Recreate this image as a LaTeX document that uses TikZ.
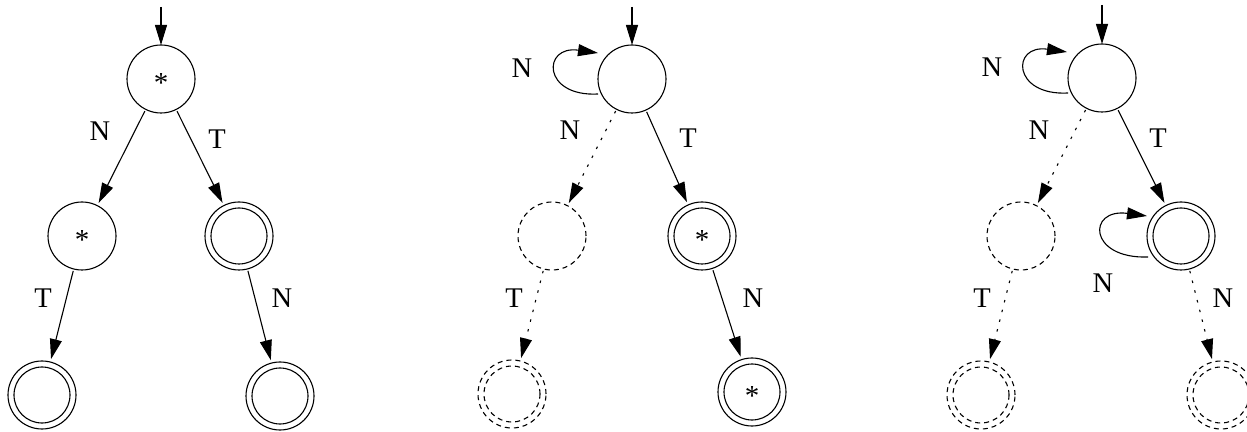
\documentclass[tikz,border=0pt]{standalone}
\usepackage{fontspec}
\setmainfont{Liberation Serif}
\usetikzlibrary{arrows.meta}
\newcommand\starmark{\makebox[0pt]{\raisebox{-0.47em}[0pt][0pt]{*}}}
\begin{document}
\begin{tikzpicture}[x=1pt,y=1pt,
  every node/.style={inner sep=0pt, outer sep=0pt},
  lbl/.style={font=\fontsize{28.5}{31}\selectfont},
  st/.style={circle, draw, line width=1.1pt, minimum size=68pt, font=\fontsize{29}{31}\selectfont},
  acc/.style={st, path picture={\draw[line width=1.1pt] (path picture bounding box.center) circle (28pt);}},
  dst/.style={st, dash pattern=on 5pt off 4pt},
  dacc/.style={dst, path picture={\draw[line width=1.1pt, dash pattern=on 5pt off 4pt] (path picture bounding box.center) circle (28pt);}},
  tr/.style={line width=1.1pt, -{Triangle[length=20pt,width=12pt]}, shorten >=3pt, shorten <=2pt},
  dtr/.style={tr, dash pattern=on 2.5pt off 7.5pt},
  lp/.style={line width=1.1pt, -{Triangle[length=20pt,width=12pt]}}
]
\useasboundingbox (0,0) rectangle (1247,431);

% Panel 1
\node[st]  (a1) at (161,352) {\starmark};
\node[st]  (a2) at (82,195) {\starmark};
\node[acc] (a3) at (239,195) {};
\node[acc] (a4) at (42,36) {};
\node[acc] (a5) at (280,35) {};
\coordinate (s1) at (161,424);
\draw[tr, shorten >=0pt, shorten <=0pt] (s1) -- (a1);
\draw[tr] (a1) -- (a2);
\draw[tr] (a1) -- (a3);
\draw[tr] (a2) -- (a4);
\draw[tr] (a3) -- (a5);
\node[lbl] (la1) at (100,300) {N};
\node[lbl] (la2) at (217,292) {T};
\node[lbl] (la3) at (43,133) {T};
\node[lbl] (la4) at (282,133) {N};

% Panel 2
\node[st]   (b1) at (632,352) {};
\node[dst]  (b2) at (552,195) {};
\node[acc]  (b3) at (702,195) {\starmark};
\node[dacc] (b4) at (512,37) {};
\node[acc]  (b5) at (752,39) {\starmark};
\coordinate (s2) at (632,424);
\draw[tr, shorten >=0pt, shorten <=0pt] (s2) -- (b1);
\draw[lp] ([shift={(-34,-15)}]b1.center) .. controls +(-56,-3) and +(-56,8) .. ([shift={(-34,26)}]b1.center);
\draw[dtr] (b1) -- (b2);
\draw[tr] (b1) -- (b3);
\draw[dtr] (b2) -- (b4);
\draw[tr] (b3) -- (b5);
\node[lbl] (lb0) at (522,363) {N};
\node[lbl] (lb1) at (570,301) {N};
\node[lbl] (lb2) at (688,293) {T};
\node[lbl] (lb3) at (514,133) {T};
\node[lbl] (lb4) at (753,133) {N};

% Panel 3
\node[st]   (c1) at (1102,353) {};
\node[dst]  (c2) at (1021,195) {};
\node[acc]  (c3) at (1181,195) {};
\node[dacc] (c4) at (981,36) {};
\node[dacc] (c5) at (1221,36) {};
\coordinate (s3) at (1102,426);
\draw[tr, shorten >=0pt, shorten <=0pt] (s3) -- (c1);
\draw[lp] ([shift={(-34,-15)}]c1.center) .. controls +(-56,-3) and +(-56,8) .. ([shift={(-35,26)}]c1.center);
\draw[lp] ([shift={(-33,-21)}]c3.center) .. controls +(-60,-2) and +(-60,8) .. ([shift={(-34,20)}]c3.center);
\draw[dtr] (c1) -- (c2);
\draw[tr] (c1) -- (c3);
\draw[dtr] (c2) -- (c4);
\draw[dtr] (c3) -- (c5);
\node[lbl] (lc0) at (992,364) {N};
\node[lbl] (lc1) at (1039,301) {N};
\node[lbl] (lc2) at (1158,293) {T};
\node[lbl] (lc3) at (1103,148) {N};
\node[lbl] (lc4) at (982,133) {T};
\node[lbl] (lc5) at (1223,133) {N};
\end{tikzpicture}
\end{document}
